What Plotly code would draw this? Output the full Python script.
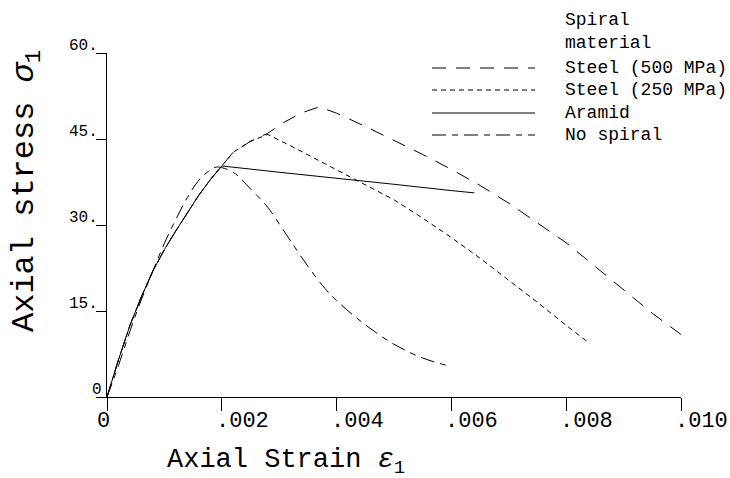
import plotly.graph_objects as go

# ---------------- data ----------------
# shared ascending branch (confined specimens)
ascent_strain = [0, 0.0002, 0.0004, 0.0006, 0.0008, 0.0010, 0.0012, 0.0014, 0.0016, 0.0018, 0.0020]
ascent_stress = [0, 6.5, 12.5, 17.5, 22.0, 25.7, 29.0, 32.2, 35.2, 37.9, 40.3]

steel500_strain = [0.0022, 0.0025, 0.0028, 0.0031, 0.0034, 0.0037, 0.0040, 0.0045, 0.0050,
                   0.0055, 0.0060, 0.0065, 0.0070, 0.0075, 0.0080, 0.0085, 0.0090, 0.0095, 0.0100]
steel500_stress = [42.7, 44.6, 46.0, 48.0, 49.6, 50.6, 49.5, 47.2, 44.8,
                   42.3, 39.7, 36.9, 33.8, 30.3, 26.9, 22.8, 18.7, 14.6, 10.9]

steel250_strain = [0.0022, 0.0025, 0.0028, 0.0032, 0.0036, 0.0040, 0.0045, 0.0050, 0.0055,
                   0.0060, 0.0065, 0.0070, 0.0075, 0.0080, 0.0084]
steel250_stress = [42.7, 44.6, 45.8, 43.8, 41.7, 39.6, 37.0, 34.4, 31.2,
                   27.8, 24.2, 20.4, 16.5, 12.5, 9.4]

aramid_strain = [0.0030, 0.0040, 0.0050, 0.0060, 0.0064]
aramid_stress = [39.2, 38.2, 37.1, 36.0, 35.6]

nospiral_strain = [0, 0.0002, 0.0004, 0.0006, 0.0008, 0.0010, 0.0012, 0.0014, 0.0016, 0.0018,
                   0.0019, 0.0020, 0.0022, 0.0025, 0.0028, 0.0030, 0.0032, 0.0035, 0.0038,
                   0.0040, 0.0045, 0.0050, 0.0055, 0.0060]
nospiral_stress = [0, 5.5, 11.5, 17.0, 22.0, 26.8, 31.0, 34.8, 37.8, 39.6,
                   40.1, 40.0, 39.2, 36.3, 33.1, 30.2, 27.2, 22.8, 18.9,
                   16.8, 12.6, 9.2, 6.8, 5.3]

x_tick_vals = [0, 0.002, 0.004, 0.006, 0.008, 0.010]
x_tick_text = ["0", ".002", ".004", ".006", ".008", ".010"]
y_tick_vals = [0, 15, 30, 45, 60]
y_tick_text = ["0", "15.", "30.", "45.", "60."]

legend_title = ["Spiral", "material"]
legend_names = ["Steel (500 MPa)", "Steel (250 MPa)", "Aramid", "No spiral"]

# ---------------- layout helpers ----------------
W, H = 730, 478
L, R, T, B = 107, 49, 53, 81
PW, PH = W - L - R, H - T - B
FONT = "Liberation Mono"


def px(xp):
    return (xp - L) / PW


def py(yp):
    return (H - B - yp) / PH


DASH500 = "14px,10px"
DASH250 = "5px,4px"
DASHNS = "14px,6px,6px,6px"

fig = go.Figure()
line_common = dict(color="black", width=1)

fig.add_trace(go.Scatter(x=ascent_strain + steel500_strain, y=ascent_stress + steel500_stress,
                         mode="lines", line=dict(dash=DASH500, **line_common), showlegend=False))
fig.add_trace(go.Scatter(x=ascent_strain + steel250_strain, y=ascent_stress + steel250_stress,
                         mode="lines", line=dict(dash=DASH250, **line_common), showlegend=False))
fig.add_trace(go.Scatter(x=ascent_strain + aramid_strain, y=ascent_stress + aramid_stress,
                         mode="lines", line=dict(dash="solid", **line_common), showlegend=False))
fig.add_trace(go.Scatter(x=nospiral_strain, y=nospiral_stress, line_shape="spline",
                         mode="lines", line=dict(dash=DASHNS, **line_common), showlegend=False))

annotations = []
# x tick labels
for v, t in zip(x_tick_vals, x_tick_text):
    annotations.append(dict(x=v, xref="x", y=0, yref="paper", yanchor="top",
                            xanchor="center" if t == "0" else "left",
                            xshift=-4 if t == "0" else -8, yshift=-10,
                            text=t, showarrow=False,
                            font=dict(family=FONT, size=22, color="black")))
# y tick labels
for v, t in zip(y_tick_vals, y_tick_text):
    annotations.append(dict(x=0, xref="x", y=v, yref="y", xanchor="right", yanchor="bottom",
                            xshift=-3 if t == "0" else -7, yshift=-4,
                            text=t, showarrow=False,
                            font=dict(family=FONT, size=16, color="black")))
# axis titles
annotations.append(dict(x=px(165), xref="paper", y=py(462), yref="paper",
                        xanchor="left", yanchor="middle",
                        text="Axial Strain <i>ε</i><sub>1</sub> ", showarrow=False,
                        font=dict(family=FONT, size=27, color="black")))
annotations.append(dict(x=px(26), xref="paper", y=py(191), yref="paper",
                        xanchor="center", yanchor="middle", textangle=-90,
                        text="Axial stress <i>σ</i><sub>1</sub>", showarrow=False,
                        font=dict(family=FONT, size=32, color="black")))
# legend
legend_rows_y = [68, 90, 113, 135]
for t, yy in zip(legend_title, [20, 43]):
    annotations.append(dict(x=px(563), xref="paper", y=py(yy), yref="paper",
                            xanchor="left", yanchor="middle", text=t, showarrow=False,
                            font=dict(family=FONT, size=18, color="black")))
for t, yy in zip(legend_names, legend_rows_y):
    annotations.append(dict(x=px(563), xref="paper", y=py(yy), yref="paper",
                            xanchor="left", yanchor="middle", text=t, showarrow=False,
                            font=dict(family=FONT, size=18, color="black")))

shapes = []
for dash, yy in zip([DASH500, DASH250, "solid", DASHNS], legend_rows_y):
    shapes.append(dict(type="line", xref="paper", yref="paper",
                       x0=px(432), x1=px(535), y0=py(yy), y1=py(yy),
                       line=dict(color="black", width=1, dash=dash)))

fig.update_layout(
    width=W, height=H,
    margin=dict(l=L, r=R, t=T, b=B),
    paper_bgcolor="white", plot_bgcolor="white",
    annotations=annotations, shapes=shapes,
    showlegend=False,
    xaxis=dict(range=[0, 0.010], showline=True, linecolor="black", linewidth=1,
               ticks="outside", ticklen=13, tickcolor="black", tickwidth=1,
               tickvals=x_tick_vals, showticklabels=False, showgrid=False, zeroline=False),
    yaxis=dict(range=[0, 60], showline=True, linecolor="black", linewidth=1,
               ticks="outside", ticklen=10, tickcolor="black", tickwidth=1,
               tickvals=y_tick_vals, showticklabels=False, showgrid=False, zeroline=False),
)

fig.write_html("out.html")
